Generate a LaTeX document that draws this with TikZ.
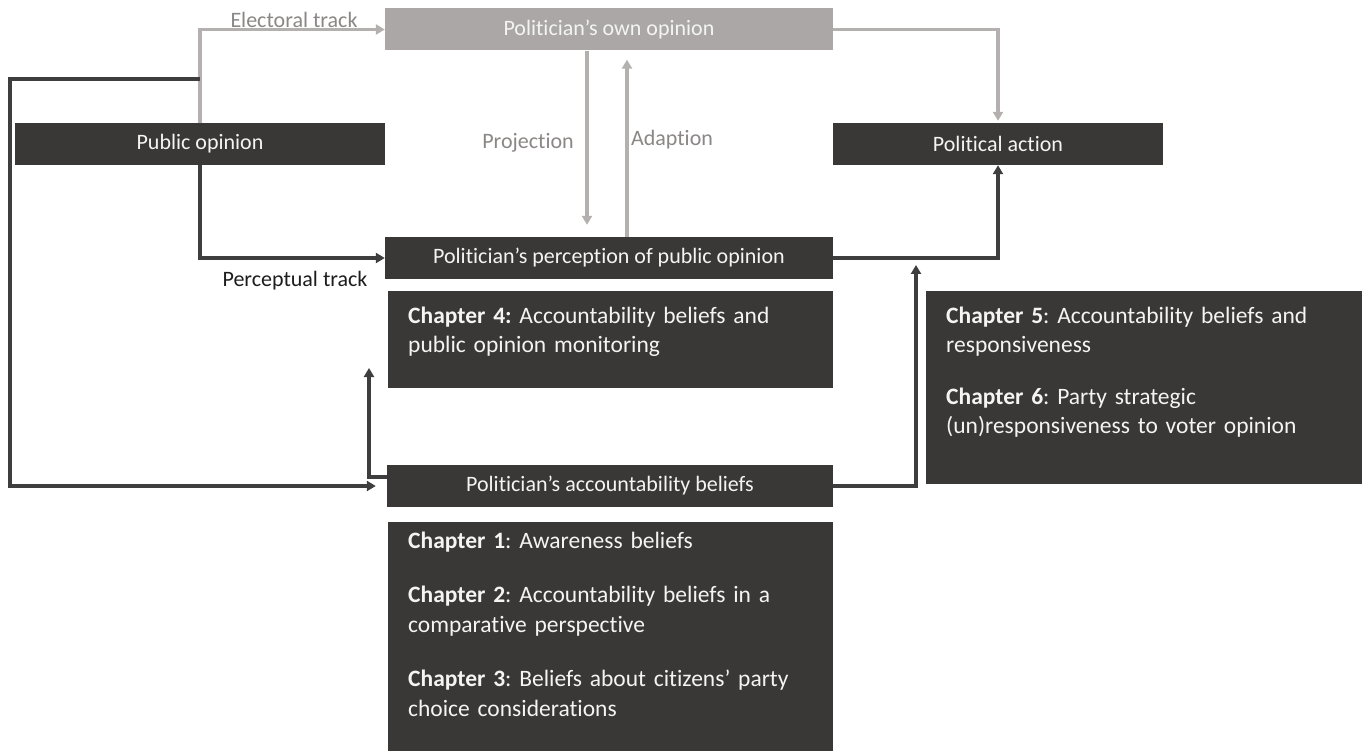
\documentclass[tikz,border=0pt]{standalone}
\usepackage{fontspec}
\setmainfont{Carlito}[RawFeature={-liga;-clig;-calt;-dlig}]
\usetikzlibrary{arrows.meta}
\definecolor{boxdark}{HTML}{3A3837}
\definecolor{boxgray}{HTML}{ABA7A6}
\definecolor{linegray}{HTML}{B3B0AF}
\definecolor{linedark}{HTML}{3F3E3E}
\definecolor{labgray}{HTML}{8A8786}
\definecolor{labdark}{HTML}{1E1E1E}
\definecolor{txtwhite}{HTML}{F4F4F4}
\frenchspacing
\begin{document}
\begin{tikzpicture}[x=1pt,y=-1pt,
  lab/.style={font=\fontsize{22}{26}\selectfont, inner sep=0},
  flowbox/.style={rectangle, fill=boxdark, text=txtwhite, inner sep=0, minimum height=42pt, font=\fontsize{22}{26}\selectfont},
  ownbox/.style={flowbox, fill=boxgray},
  chbox/.style={rectangle, fill=boxdark, text=txtwhite, inner ysep=0pt, inner xsep=20pt, align=left, anchor=north west, font=\fontsize{23.5}{29.5}\selectfont},
  garrow/.style={draw=linegray, line width=3.2pt, -{Triangle[length=9pt,width=10pt]}},
  darrow/.style={draw=linedark, line width=3.2pt, -{Triangle[length=9pt,width=10pt]}},
]
\fill[white] (0,0) rectangle (1362,751);
\useasboundingbox (0,0) rectangle (1362,751);

% main boxes
\node[ownbox, minimum width=448pt] (own) at (609,29.5) {Politician’s own opinion};
\node[flowbox, minimum width=370pt] (pub) at (200,144) {Public opinion};
\node[flowbox, minimum width=330pt] (act) at (998,144) {Political action};
\node[flowbox, minimum width=448pt] (perc) at (609,258) {Politician’s perception of public opinion};
\node[flowbox, minimum width=446pt] (acc) at (610,486) {Politician’s accountability beliefs};

% chapter boxes
\node[chbox, text width=405pt, text height=32pt, text depth=65pt] (ch4) at (388,291)
  {\textbf{Chapter 4:} Accountability beliefs and\\public opinion monitoring};
\node[chbox, text width=396pt, text height=32pt, text depth=161pt] (ch56) at (926,291)
  {\textbf{Chapter 5}: Accountability beliefs and\\responsiveness\\[22pt]\textbf{Chapter 6}: Party strategic\\(un)responsiveness to voter opinion};
\node[chbox, text width=405pt, text height=26pt, text depth=203pt] (ch13) at (388,522)
  {\textbf{Chapter 1}: Awareness beliefs\\[25pt]\textbf{Chapter 2}: Accountability beliefs in a\\comparative perspective\\[25pt]\textbf{Chapter 3}: Beliefs about citizens’ party\\choice considerations};

% labels
\node[lab, text=labgray] (elab) at (294,20) {Electoral track};
\node[lab, text=labdark] (plab) at (295,281) {Perceptual track};
\node[lab, text=labgray] (projlab) at (528,143) {Projection};
\node[lab, text=labgray] (adlab) at (672,140) {Adaption};

% helper coordinates
\coordinate (lp) at (200,79);
\coordinate (lc) at (10,79);
\coordinate (a4) at (369,368);
\coordinate (a5) at (916,265);

% connectors
\draw[garrow] (pub.north) |- (own.west);
\draw[darrow, shorten >=11pt] (lp) -- (lc) |- (acc.west);
\draw[darrow] (pub.south) |- (perc.west);
\draw[garrow, shorten >=12pt] ([xshift=-22pt]own.south) -- ([xshift=-22pt]own.south |- perc.north);
\draw[garrow, shorten >=9pt] ([xshift=18pt]perc.north) -- ([xshift=18pt]perc.north |- own.south);
\draw[garrow, shorten >=2pt] (own.east) -| (act.north);
\draw[darrow] (perc.east) -| (act.south);
\draw[darrow] (acc.east) -| (a5);
\draw[darrow] ([yshift=9pt]acc.west) -| (a4);
\end{tikzpicture}
\end{document}
